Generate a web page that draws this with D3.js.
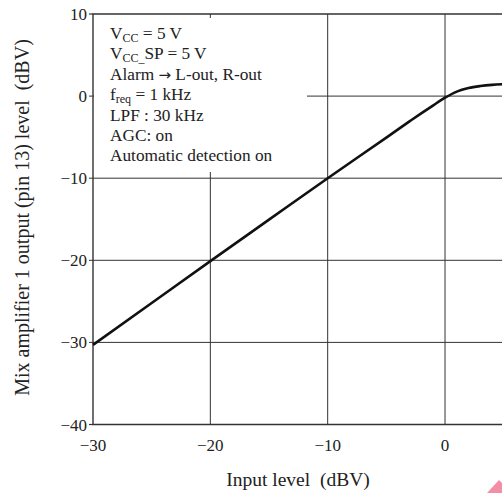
<!DOCTYPE html>
<html>
<head>
<meta charset="utf-8">
<script src="https://cdn.jsdelivr.net/npm/d3@7"></script>
<style>
  body { margin: 0; background: #fff; }
  svg { display: block; font-family: "Liberation Serif", "Times New Roman", serif; }
</style>
</head>
<body>
<div id="chart-area"></div>
<script>
// Input level vs. mix amplifier 1 output level

const inputLevel = [-30, -25, -20, -15, -10, -5, -3, -2, -1, 0, 1, 2, 3, 4, 5];
const outputLevel = [-30.3, -25.2, -20.1, -15.05, -10, -5.05, -3.05, -2.07, -1.12, -0.2, 0.55, 0.98, 1.22, 1.37, 1.45];

const xTicks = [-30, -20, -10, 0];
const yTicks = [10, 0, -10, -20, -30, -40];

const notes = [
  [["V", ""], ["CC", "sub"], [" = 5 V", ""]],
  [["V", ""], ["CC_", "sub"], ["SP = 5 V", ""]],
  [["Alarm ", ""], ["\u2192", "arrow"], [" L-out, R-out", ""]],
  [["f", ""], ["req", "sub"], [" = 1 kHz", ""]],
  [["LPF : 30 kHz", ""]],
  [["AGC: on", ""]],
  [["Automatic detection on", ""]]
];

const W = 502, H = 493;
const margin = { top: 14, left: 93, bottom: 68.5 };

const x = d3.scaleLinear()
  .domain([-30, 5])
  .range([margin.left, 503.7]);

const y = d3.scaleLinear()
  .domain([-40, 10])
  .range([H - margin.bottom, margin.top]);

const svg = d3.select('#chart-area').append('svg')
  .attr('width', W)
  .attr('height', H);

svg.append('rect')
  .attr('width', W).attr('height', H)
  .attr('fill', '#fff');

// grid lines
svg.append('g')
  .selectAll('line')
  .data(xTicks.slice(1))
  .enter().append('line')
  .attr('x1', d => x(d)).attr('x2', d => x(d))
  .attr('y1', y(10)).attr('y2', y(-40))
  .attr('stroke', '#333').attr('stroke-width', 1);

svg.append('g')
  .selectAll('line')
  .data(yTicks.slice(1, -1))
  .enter().append('line')
  .attr('x1', x(-30) - 4).attr('x2', W + 5)
  .attr('y1', d => y(d)).attr('y2', d => y(d))
  .attr('stroke', '#333').attr('stroke-width', 1);

// y tick stubs for the border lines
svg.append('g')
  .selectAll('line')
  .data([10, -40])
  .enter().append('line')
  .attr('x1', x(-30) - 4).attr('x2', x(-30))
  .attr('y1', d => y(d)).attr('y2', d => y(d))
  .attr('stroke', '#333').attr('stroke-width', 1.2);

// white box behind conditions text
svg.append('rect')
  .attr('x', x(-30) + 1)
  .attr('y', 18)
  .attr('width', 213)
  .attr('height', 154)
  .attr('fill', '#fff');

// plot border (right side falls outside the picture)
svg.append('path')
  .attr('d', `M${W + 5},${y(10)}H${x(-30)}V${y(-40)}H${W + 5}`)
  .attr('fill', 'none')
  .attr('stroke', '#333')
  .attr('stroke-width', 1.4);

// curve
const line = d3.line()
  .x((d, i) => x(d))
  .y((d, i) => y(outputLevel[i]))
  .curve(d3.curveMonotoneX);

svg.append('path')
  .datum(inputLevel)
  .attr('d', line)
  .attr('fill', 'none')
  .attr('stroke', '#111')
  .attr('stroke-width', 2.6);

// tick labels
const fmt = d3.format('d');
svg.append('g')
  .selectAll('text')
  .data(xTicks)
  .enter().append('text')
  .attr('x', d => x(d))
  .attr('y', 450.5)
  .attr('text-anchor', 'middle')
  .attr('font-size', 17)
  .attr('fill', '#222')
  .text(d => fmt(d).replace('-', '\u2212'));

svg.append('g')
  .selectAll('text')
  .data(yTicks)
  .enter().append('text')
  .attr('x', 87)
  .attr('y', d => y(d) + 6)
  .attr('text-anchor', 'end')
  .attr('font-size', 17)
  .attr('fill', '#222')
  .text(d => fmt(d).replace('-', '\u2212'));

// axis titles
svg.append('text')
  .attr('x', 298)
  .attr('y', 486)
  .attr('text-anchor', 'middle')
  .attr('font-size', 19.5)
  .attr('fill', '#222')
  .style('white-space', 'pre')
  .text('Input level  (dBV)');

svg.append('text')
  .attr('transform', `translate(29, 217.5) rotate(-90)`)
  .attr('text-anchor', 'middle')
  .attr('font-size', 20)
  .attr('fill', '#222')
  .style('white-space', 'pre')
  .text('Mix amplifier 1 output (pin 13) level  (dBV)');

// conditions
const noteG = svg.append('g')
  .attr('font-size', 17.3)
  .attr('fill', '#222');

notes.forEach((parts, i) => {
  const t = noteG.append('text')
    .attr('x', 110)
    .attr('y', 39 + i * 20.4)
    .style('white-space', 'pre');
  let shifted = false;
  parts.forEach(([s, kind]) => {
    const sp = t.append('tspan').text(s);
    if (kind === 'sub') {
      sp.attr('font-size', 12).attr('dy', 3);
      shifted = true;
    } else if (kind === 'arrow') {
      sp.attr('font-family', '"DejaVu Sans", sans-serif').attr('font-size', 15);
    } else if (shifted) {
      sp.attr('dy', -3);
      shifted = false;
    }
  });
});

// pink corner mark
svg.append('polygon')
  .attr('points', '487,493 499,480 502,483 502,493')
  .attr('fill', '#f28fa6');
</script>
</body>
</html>
